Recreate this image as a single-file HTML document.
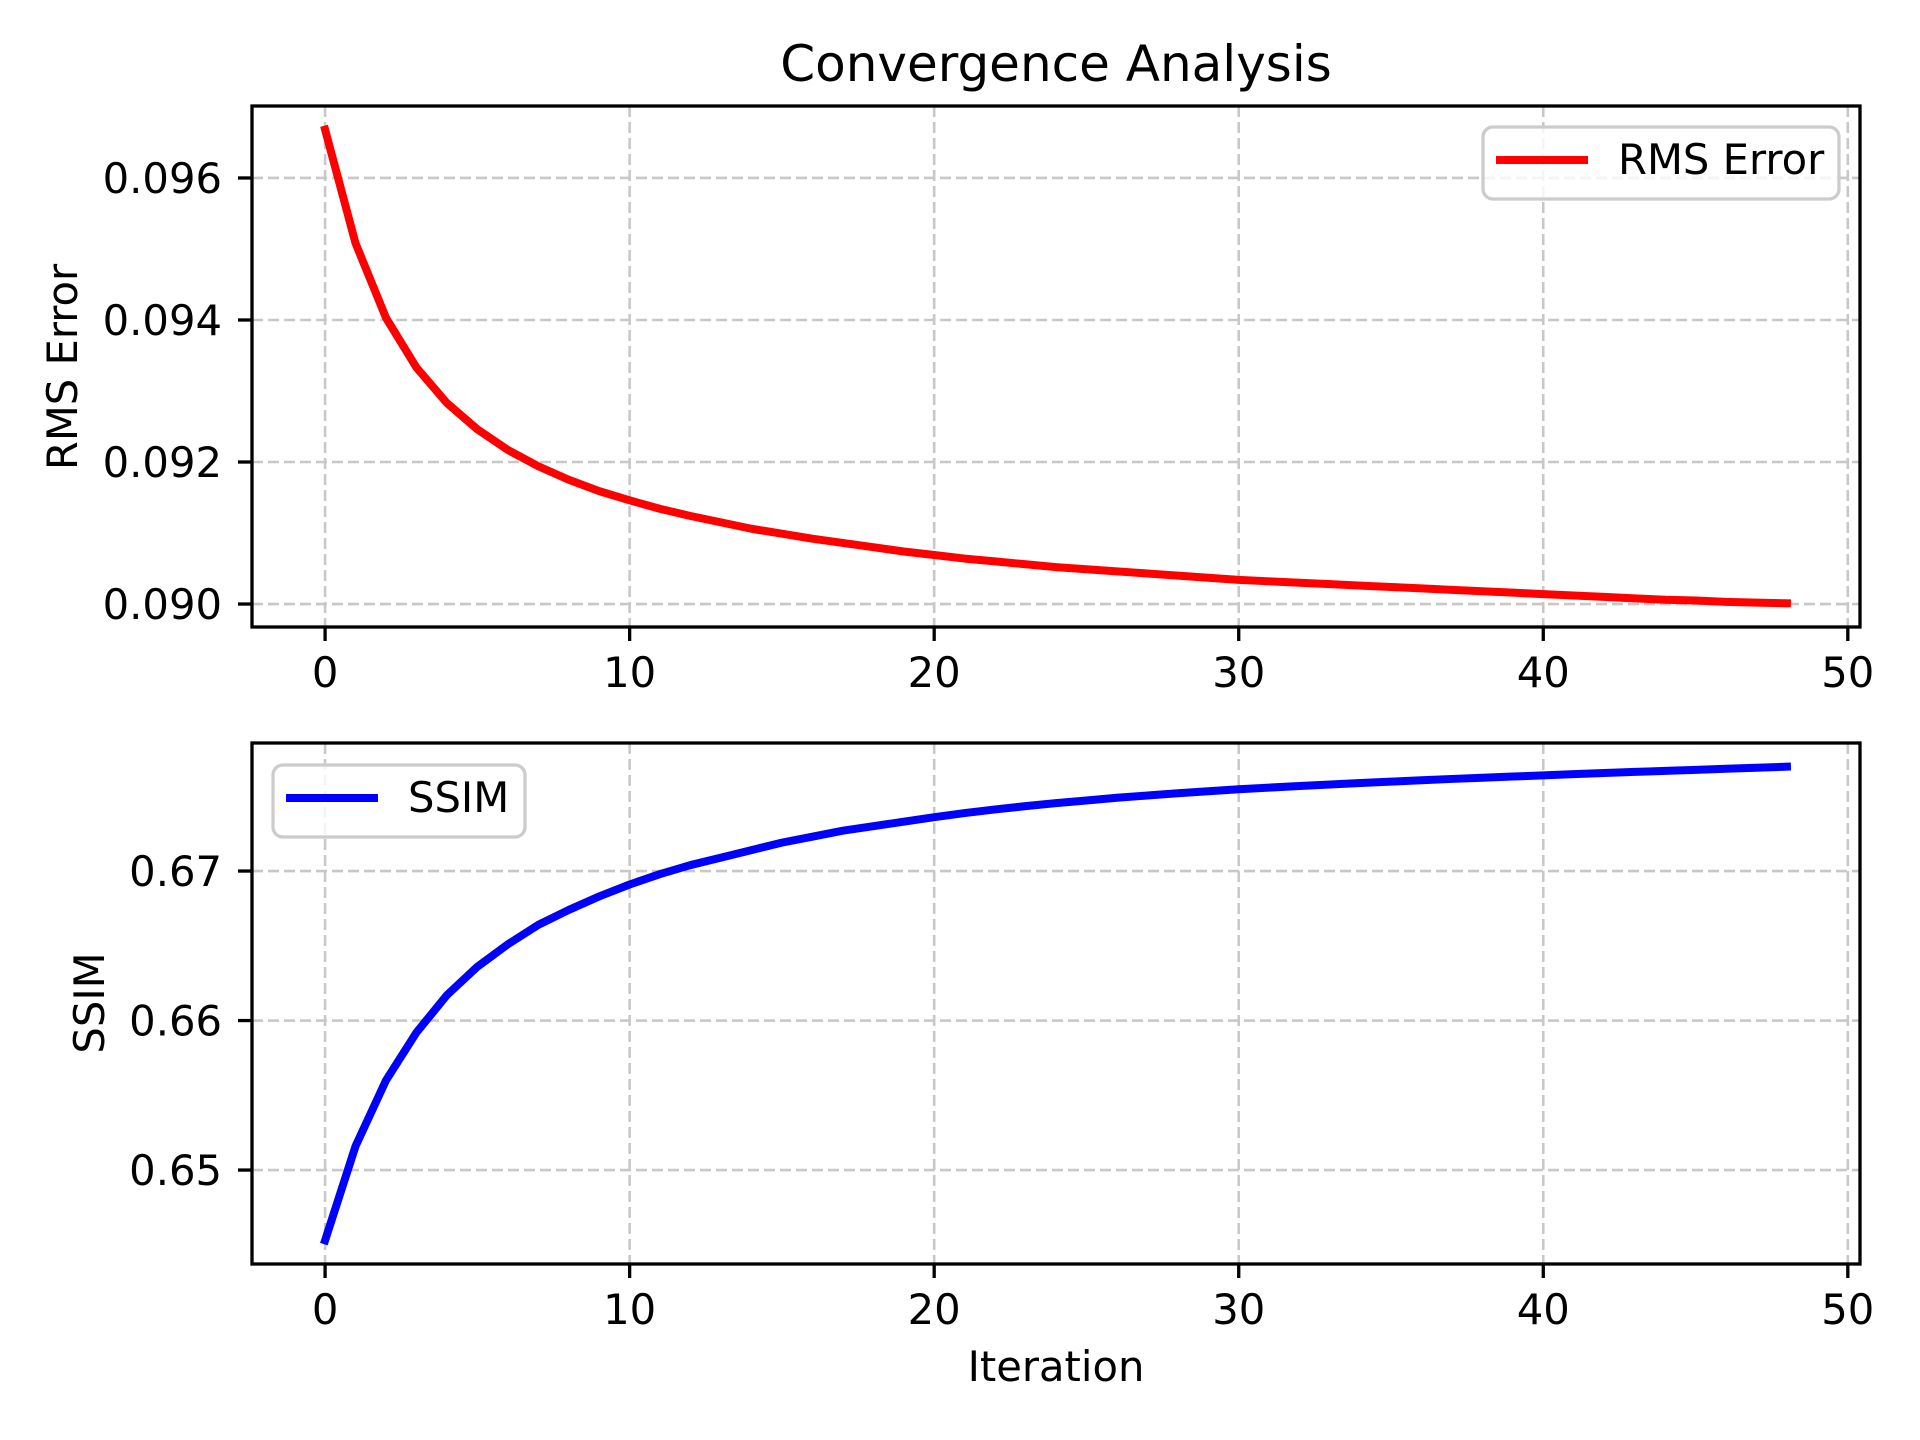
<!DOCTYPE html>
<html><head><meta charset="utf-8"><style>
html,body{margin:0;padding:0;background:#fff;}
svg{display:block;font-family:"DejaVu Sans","Liberation Sans",sans-serif;}
</style></head><body>
<svg id="chart" width="1920" height="1440" viewBox="0 0 1920 1440" xmlns="http://www.w3.org/2000/svg">
<rect width="1920" height="1440" fill="#fff"/>
<text x="1056" y="81" font-size="50" text-anchor="middle">Convergence Analysis</text>
<g id="top"></g>
<g id="bot"></g>
<text transform="translate(77,367) rotate(-90)" font-size="41.7" text-anchor="middle">RMS Error</text>
<text transform="translate(104,1003) rotate(-90)" font-size="41.7" text-anchor="middle">SSIM</text>
<text x="1056" y="1381" font-size="41.7" text-anchor="middle">Iteration</text>
</svg>
<script>
const iterations = Array.from({length:49},(_, i)=>i);
const rmsValues = [0.09668,0.09508,0.09403,0.09333,0.09283,0.09246,0.09217,0.09194,0.09175,0.09159,0.09146,0.09134,0.09124,0.09115,0.09106,0.09099,0.09092,0.09086,0.09080,0.09074,0.09069,0.09064,0.09060,0.09056,0.09052,0.09049,0.09046,0.09043,0.09040,0.09037,0.09034,0.09032,0.09030,0.09028,0.09026,0.09024,0.09022,0.09020,0.09018,0.09016,0.09014,0.09012,0.09010,0.09008,0.09006,0.09005,0.09003,0.09002,0.09001];
const ssimValues = [0.6453,0.6516,0.6560,0.6592,0.6617,0.6636,0.6651,0.6664,0.6674,0.6683,0.6691,0.6698,0.6704,0.6709,0.6714,0.6719,0.6723,0.6727,0.6730,0.6733,0.6736,0.67388,0.67412,0.67434,0.67454,0.67472,0.67490,0.67505,0.67520,0.67534,0.67547,0.67558,0.67569,0.67579,0.67589,0.67598,0.67607,0.67616,0.67624,0.67632,0.67640,0.67648,0.67656,0.67663,0.67670,0.67677,0.67684,0.67691,0.67698];
const xTicks = [0,10,20,30,40,50];
const rmsTicks = [0.090,0.092,0.094,0.096];
const rmsTickLabels = ["0.090","0.092","0.094","0.096"];
const ssimTicks = [0.65,0.66,0.67];
const ssimTickLabels = ["0.65","0.66","0.67"];

const NS="http://www.w3.org/2000/svg";
function mk(parent,tag,attrs){const e=document.createElementNS(NS,tag);for(const k in attrs)e.setAttribute(k,attrs[k]);parent.appendChild(e);return e;}

function panel(g,top,bottom,vals,ticks,labels,color,name,legend,ylo,yhi){
  const L=252,R=1860;
  const xmin=Math.min(...iterations),xmax=Math.max(...iterations),xm=(xmax-xmin)*0.05;
  const ymin=Math.min(...vals),ymax=Math.max(...vals),ym=(ymax-ymin)*0.05;
  const sx=v=>L+(v-(xmin-xm))/((xmax+xm)-(xmin-xm))*(R-L);
  const sy=v=>bottom-(v-(ymin-ym))/((ymax+ym)-(ymin-ym))*(bottom-top);
  xTicks.forEach(t=>{
    const x=sx(t);
    const gl=mk(g,'line',{x1:x,x2:x,y1:top,y2:bottom,stroke:'#c8c8c8','stroke-width':2.6,'stroke-dasharray':'11 5'});
    
    
    const tk=mk(g,'line',{x1:x,x2:x,y1:bottom,y2:bottom+14,stroke:'#000','stroke-width':3.3});
    
    
    const tl=mk(g,'text',{x:x,y:bottom+60,'font-size':41.7,'text-anchor':'middle'});
    tl.textContent=String(t);
    
    
  });
  ticks.forEach((t,i)=>{
    const y=sy(t);
    const gl=mk(g,'line',{x1:L,x2:R,y1:y,y2:y,stroke:'#c8c8c8','stroke-width':2.6,'stroke-dasharray':'11 5'});
    
    
    const tk=mk(g,'line',{x1:L-14,x2:L,y1:y,y2:y,stroke:'#000','stroke-width':3.3});
    
    
    const tl=mk(g,'text',{x:L-30,y:y+15,'font-size':41.7,'text-anchor':'end'});
    tl.textContent=labels[i];
    
    
  });
  const d=iterations.map((it,i)=>(i?'L':'M')+sx(it).toFixed(2)+','+sy(vals[i]).toFixed(2)).join(' ');
  const p=mk(g,'path',{d:d,fill:'none',stroke:color,'stroke-width':8,'stroke-linejoin':'round','stroke-linecap':'square'});
  
  
  const fr=mk(g,'rect',{x:L,y:top,width:R-L,height:bottom-top,fill:'none',stroke:'#000','stroke-width':3.3});
  
  
  const lg=mk(g,'g',{});
  
  
  mk(lg,'rect',{x:legend.x,y:legend.y,width:legend.w,height:legend.h,rx:10,fill:'#fff','fill-opacity':0.8,stroke:'#cccccc','stroke-width':3.3});
  mk(lg,'line',{x1:legend.x+13,x2:legend.x+105,y1:legend.y+33,y2:legend.y+33,stroke:color,'stroke-width':8});
  const lt=mk(lg,'text',{x:legend.x+135,y:legend.y+47,'font-size':41.7});
  lt.textContent=legend.label;
  
  
}
panel(document.getElementById('top'),106,627,rmsValues,rmsTicks,rmsTickLabels,'#ff0000','rms-error',{x:1483,y:127,w:356,h:72,label:'RMS Error'});
panel(document.getElementById('bot'),743,1264,ssimValues,ssimTicks,ssimTickLabels,'#0000ff','ssim',{x:273,y:765,w:252,h:72,label:'SSIM'});
</script>
</body></html>
